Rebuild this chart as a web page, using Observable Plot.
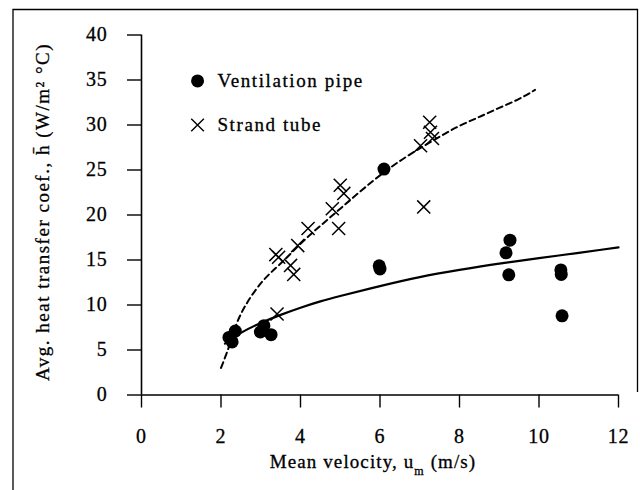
<!DOCTYPE html>
<html><head><meta charset="utf-8">
<script src="https://cdn.jsdelivr.net/npm/d3@7"></script>
<script src="https://cdn.jsdelivr.net/npm/@observablehq/plot@0.6"></script>
<style>
body{margin:0;background:#fff;}
#chart{width:640px;height:490px;}
#chart svg text{stroke:#000;stroke-width:0.3px;}
</style></head><body><div id="chart"></div>
<script>
// Ventilation pipe (filled circles)
const ventU = [2.2, 2.28, 2.36, 2.99, 3.08, 3.26, 5.98, 6.0, 6.1, 9.17, 9.27, 9.24, 10.55, 10.56, 10.58];
const ventH = [6.4, 5.9, 7.1, 7.0, 7.7, 6.7, 14.35, 14.0, 25.1, 15.8, 17.2, 13.35, 13.9, 13.4, 8.8];
// Strand tube (crosses)
const strandU = [3.38, 3.45, 3.41, 3.75, 3.83, 3.93, 4.19, 4.8, 4.96, 5.0, 5.09, 7.02, 7.1, 7.25, 7.27, 7.32];
const strandH = [15.6, 15.3, 9.0, 14.4, 13.4, 16.6, 18.5, 20.7, 18.5, 23.3, 22.4, 27.7, 20.9, 30.3, 29.2, 28.5];
// Fitted curves
const dashU = [2.0, 2.25, 2.5, 3.0, 3.5, 4.0, 4.5, 5.0, 5.5, 6.0, 6.5, 7.0, 7.5, 8.0, 8.5, 9.0, 9.5, 9.9];
const dashH = [3.0, 6.0, 9.0, 12.4, 14.6, 16.8, 18.8, 20.7, 22.6, 24.4, 26.0, 27.4, 28.7, 29.9, 30.9, 31.9, 32.9, 33.9];
const solidU = [2.1, 2.5, 3.0, 3.5, 4.0, 4.5, 5.0, 6.0, 7.0, 8.0, 9.0, 10.0, 11.0, 12.0];
const solidH = [5.7, 6.9, 8.0, 8.9, 9.7, 10.4, 11.0, 12.1, 13.1, 13.9, 14.6, 15.2, 15.8, 16.4];
// Axis ticks
const xTicks = [0, 2, 4, 6, 8, 10, 12];
const yTicks = [0, 5, 10, 15, 20, 25, 30, 35, 40];
// Legend
const legendLabels = ["Ventilation pipe", "Strand tube"];

const vent = ventU.map((u, i) => ({u, h: ventH[i]}));
const strand = strandU.map((u, i) => ({u, h: strandH[i]}));
const dash = dashU.map((u, i) => ({u, h: dashH[i]}));
const solid = solidU.map((u, i) => ({u, h: solidH[i]}));
const legend = legendLabels.map((label, i) => ({label, lx: 1.41, tx: 1.91, ly: 34.9 - i * 4.9}));

const font = "'Liberation Serif', 'Times New Roman', serif";
const plot = Plot.plot({
  width: 640, height: 490,
  marginLeft: 141, marginRight: 22, marginTop: 34.5, marginBottom: 95.5,
  style: {fontFamily: font, fontSize: "19px", color: "#000", background: "#fff", letterSpacing: "0.8px"},
  x: {domain: [0, 12]},
  y: {domain: [0, 40]},
  marks: [
    Plot.axisY(yTicks, {tickSize: 14, tickPadding: 20, label: null, fontSize: 20, strokeWidth: 1.4}),
    Plot.axisX(xTicks, {tickSize: 13, tickPadding: 21, label: null, fontSize: 20, strokeWidth: 1.4}),
    Plot.ruleX([0], {y1: 0, y2: 40, strokeWidth: 1.6}),
    Plot.ruleY([0], {x1: 0, x2: 12, strokeWidth: 1.6}),
    Plot.line(dash, {x: "u", y: "h", curve: "natural", stroke: "#000", strokeWidth: 2, strokeDasharray: "6,4"}),
    Plot.line(solid, {x: "u", y: "h", curve: "natural", stroke: "#000", strokeWidth: 2.2}),
    Plot.dot(vent, {x: "u", y: "h", r: 6.5, fill: "#000", stroke: null, symbol: "circle"}),
    Plot.dot(strand, {x: "u", y: "h", r: 6, symbol: "times", stroke: "#000", strokeWidth: 1.5}),
    Plot.dot(legend.slice(0, 1), {x: "lx", y: "ly", symbol: "circle", r: 6.5, fill: "#000", stroke: null}),
    Plot.dot(legend.slice(1, 2), {x: "lx", y: "ly", symbol: "times", r: 5.8, stroke: "#000", strokeWidth: 1.4}),
    Plot.text(legend, {x: "tx", y: "ly", text: "label", textAnchor: "start", fontSize: 19, fill: "#000"})
  ]
});
document.getElementById("chart").appendChild(plot);

const svg = d3.select(plot);
// legend letter spacing
svg.selectAll("text").filter(function(){ return legendLabels.includes(this.textContent); }).attr("letter-spacing", "1.6px");
// x axis title
const xt = svg.append("text").attr("x", 373).attr("y", 468).attr("text-anchor", "middle")
  .attr("font-family", font).attr("font-size", 19).attr("letter-spacing", "1.1px").attr("fill", "#000");
xt.append("tspan").text("Mean velocity, u");
xt.append("tspan").attr("font-size", 12).attr("dy", 7).text("m");
xt.append("tspan").attr("dy", -7).text(" (m/s)");
// y axis title
svg.append("text").attr("transform", "translate(49,212) rotate(-90)").attr("text-anchor", "middle")
  .attr("font-family", font).attr("font-size", 19).attr("letter-spacing", "1.5px").attr("fill", "#000")
  .text("Avg. heat transfer coef., h\u0304 (W/m\u00B2 \u00B0C)");
// outer frame
svg.append("path").attr("d", "M13,490V9.5H637.5V392").attr("fill", "none").attr("stroke", "#000").attr("stroke-width", 1.3);
</script></body></html>
